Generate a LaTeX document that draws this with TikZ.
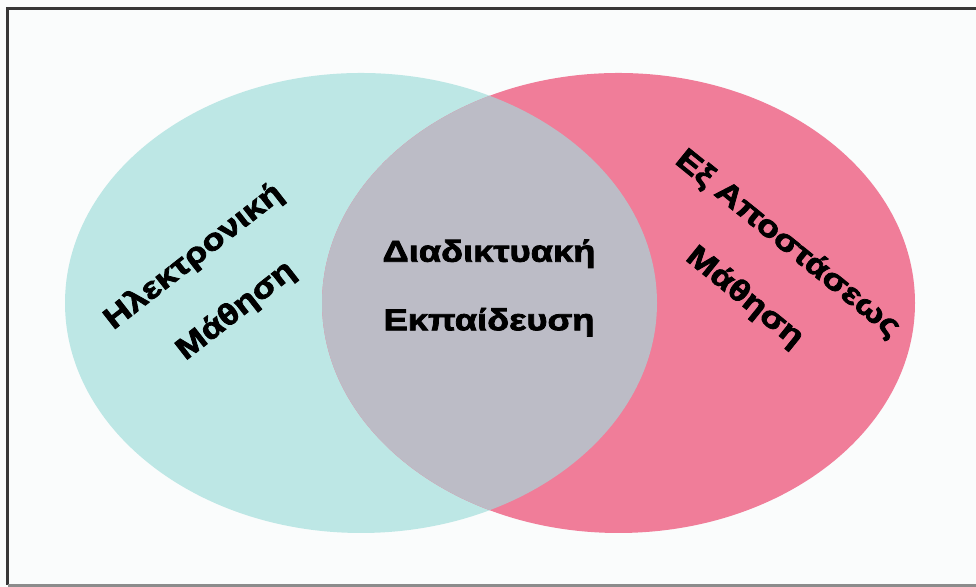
\documentclass[tikz,border=0pt]{standalone}
\usepackage{fontspec}
\setmainfont{Liberation Sans}
\newfontfamily\vennfont{Liberation Sans}[FakeStretch=1.2,FakeBold=2.6]
\usepackage{xcolor}
\usepackage{tikz}
\usetikzlibrary{positioning}
\definecolor{elearncyan}{RGB}{189,231,229}
\definecolor{distpink}{RGB}{240,125,153}
\definecolor{onlinegray}{RGB}{188,188,198}
\definecolor{pagewhite}{RGB}{250,252,252}
\definecolor{framedark}{RGB}{55,55,55}
\definecolor{framegray}{RGB}{140,140,140}

\begin{document}
\begin{tikzpicture}[x=1mm,y=1mm,
    vennlabel/.style={font=\vennfont\fontsize{8.6}{19.5}\selectfont\bfseries,align=center,inner sep=0pt}]

    % page and frame
    \fill[pagewhite] (0,0) rectangle (97.6,58.7);
    \useasboundingbox (0,0) rectangle (97.6,58.7);
    \draw[framedark,line width=0.3mm] (99,57.85) -- (0.75,57.85) -- (0.75,0.15);
    \draw[framegray,line width=0.3mm] (0.75,0.15) -- (99,0.15);

    % the two sets
    \fill[elearncyan] (36.1,28.4) ellipse [x radius=29.6,y radius=23.0];
    \fill[distpink] (61.85,28.4) ellipse [x radius=29.65,y radius=23.0];

    % overlap
    \begin{scope}
        \clip (36.1,28.4) ellipse [x radius=29.6,y radius=23.0];
        \fill[onlinegray] (61.85,28.4) ellipse [x radius=29.65,y radius=23.0];
    \end{scope}

    % labels
    \node[vennlabel,rotate=38] (elearn) at (21.5,30.3) {Ηλεκτρονική\\Μάθηση};
    \node[vennlabel] (online) at (48.9,29.9) {Διαδικτυακή\\Εκπαίδευση};
    \node[vennlabel,rotate=-39] (distance) at (76.6,31.6) {Εξ Αποστάσεως\\Μάθηση};

\end{tikzpicture}
\end{document}
